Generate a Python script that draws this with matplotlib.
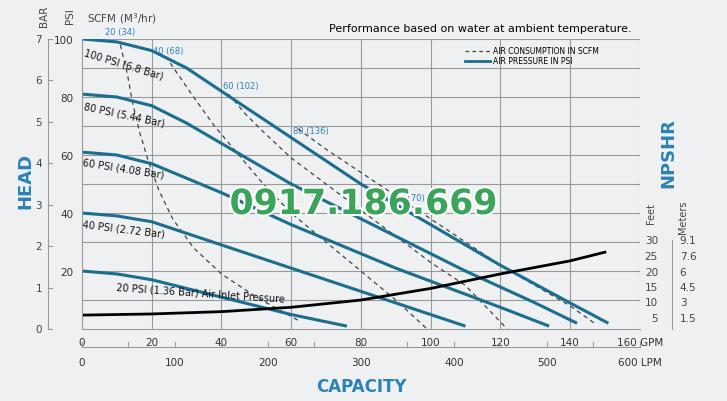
import matplotlib
matplotlib.use("Agg")
import matplotlib.pyplot as plt
import matplotlib.patheffects as pe

# Air pressure curves (GPM, PSI)
p100_x = [0, 10, 20, 30, 40, 50, 60, 70, 80, 90, 100, 110, 120, 130, 140, 151]
p100_y = [100, 99, 96, 90, 82, 74, 66, 58, 50, 43, 36, 29, 22, 15.5, 9, 2]
p80_x = [0, 10, 20, 30, 40, 50, 60, 70, 80, 90, 100, 110, 120, 130, 142]
p80_y = [81, 80, 77, 71, 64, 57, 50, 44, 38, 32, 26, 20, 14.5, 9, 2]
p60_x = [0, 10, 20, 30, 40, 50, 60, 70, 80, 90, 100, 110, 120, 134]
p60_y = [61, 60, 57, 52, 47, 41.5, 36, 31, 26, 21, 16.5, 12, 7.5, 1]
p40_x = [0, 10, 20, 30, 40, 50, 60, 70, 80, 90, 100, 110]
p40_y = [40, 39, 37, 33, 29, 25, 21, 17, 13, 9, 5, 1]
p20_x = [0, 10, 20, 30, 40, 50, 60, 70, 76]
p20_y = [20, 19, 17, 14, 11, 8, 5, 2.5, 1]
# Air consumption (SCFM) curves
s20_x = [11, 13, 14.5, 16.5, 19, 22, 26, 32, 40, 50, 62]
s20_y = [98, 88, 78, 68, 58, 48, 38, 28, 19, 11, 3]
s40_x = [24, 28, 32, 38, 45, 52, 60, 70, 80, 90, 99]
s40_y = [94, 87, 80, 70, 60, 50, 40, 30, 20, 10, 0]
s60_x = [42, 47, 52, 60, 70, 80, 90, 100, 110, 122]
s60_y = [81, 74, 68, 59, 50, 41, 32, 23, 15, 0]
s80_x = [62, 70, 80, 90, 100, 110, 120, 130, 140, 147]
s80_y = [69, 62, 54, 46, 38, 30, 22, 15, 8, 2]
# NPSHR
n_x = [0, 20, 40, 60, 80, 100, 120, 140, 150]
n_y = [4.8, 5.2, 6, 7.5, 10, 14, 19, 23.5, 26.5]

press_labels = ["100 PSI (6.8 Bar)", "80 PSI (5.44 Bar)", "60 PSI (4.08 Bar)",
                "40 PSI (2.72 Bar)", "20 PSI (1.36 Bar) Air Inlet Pressure"]
scfm_labels = ["20 (34)", "40 (68)", "60 (102)", "80 (136)", "100 (170)"]
gpm_ticks = [0, 20, 40, 60, 80, 100, 120, 140, 160]
psi_ticks = [20, 40, 60, 80, 100]
bar_ticks = [0, 1, 2, 3, 4, 5, 6, 7]
lpm_ticks = [0, 100, 200, 300, 400, 500, 600]
feet = [30, 25, 20, 15, 10, 5]
meters = ["9.1", "7.6", "6", "4.5", "3", "1.5"]

BLUE = "#1a6e8e"
LBLUE = "#2b82b8"
fig = plt.figure(figsize=(7.27, 4.02), dpi=100, facecolor="#eef0f2")
ax = fig.add_axes([0.1128, 0.179, 0.7672, 0.7215])
ax.set_facecolor("#eef0f2")
ax.set_xlim(0, 160); ax.set_ylim(0, 100)
for g in range(20, 161, 20):
    ax.axvline(g, color="#999999", lw=0.8, zorder=0)
for g in range(10, 101, 10):
    ax.axhline(g, color="#999999", lw=0.8, zorder=0)
for s in ["top", "right"]:
    ax.spines[s].set_visible(False)
ax.spines["left"].set_color("#999999"); ax.spines["bottom"].set_color("#999999")
ax.set_xticks(gpm_ticks)
ax.set_xticklabels([str(t) if t < 160 else "160 GPM" for t in gpm_ticks])
ax.set_yticks([0] + psi_ticks)
ax.set_yticklabels([""] + [str(t) for t in psi_ticks])
ax.tick_params(length=0, labelsize=7.5, colors="#333333", pad=6)

for xs, ys in [(s20_x, s20_y), (s40_x, s40_y), (s60_x, s60_y), (s80_x, s80_y)]:
    ax.plot(xs, ys, color="#444444", lw=0.9, ls=(0, (3.5, 3)))
for xs, ys in [(p100_x, p100_y), (p80_x, p80_y), (p60_x, p60_y), (p40_x, p40_y), (p20_x, p20_y)]:
    ax.plot(xs, ys, color=BLUE, lw=2.2, solid_capstyle="butt")
ax.plot(n_x, n_y, color="black", lw=2)

for (x, y, r), t in zip([(12, 91.5, -17), (12, 74, -12), (12, 55.5, -9), (12, 34.5, -7), (34, 12.5, -4)], press_labels):
    ax.text(x, y, t, rotation=r, ha="center", va="center", fontsize=7, color="#111111")
for (x, y), t in zip([(11, 102.5), (24.6, 96), (45.6, 84), (65.6, 68.6), (92.5, 45.5)], scfm_labels):
    ax.text(x, y, t, ha="center", va="center", fontsize=6, color=LBLUE, clip_on=False, zorder=1)

# legend
ax.plot([110, 117], [96, 96], color="#444444", lw=0.9, ls=(0, (3, 2.5)))
ax.plot([110, 117], [92.5, 92.5], color=BLUE, lw=2)
ax.text(118, 96, "AIR CONSUMPTION IN SCFM", fontsize=5.5, va="center")
ax.text(118, 92.5, "AIR PRESSURE IN PSI", fontsize=5.5, va="center")
fig.text(0.452, 0.92, "Performance based on water at ambient temperature.", fontsize=8)

# left BAR scale
for b in bar_ticks:
    y = 0.179 + 0.7215 * b / 7
    fig.text(0.058, y, str(b), ha="right", va="center", fontsize=7.5, color="#444444")
fig.add_artist(plt.Line2D([0.066, 0.066], [0.179, 0.9005], color="#999999", lw=0.8))
for b in bar_ticks:
    y = 0.179 + 0.7215 * b / 7
    fig.add_artist(plt.Line2D([0.066, 0.072], [y, y], color="#999999", lw=0.8))
fig.text(0.06, 0.96, "BAR", rotation=90, ha="center", va="center", fontsize=7.5, color="#444444")
fig.text(0.096, 0.96, "PSI", rotation=90, ha="center", va="center", fontsize=7.5, color="#444444")
fig.text(0.12, 0.945, "SCFM (M$^3$/hr)", fontsize=7.5, color="#444444")
fig.text(0.035, 0.55, "HEAD", rotation=90, ha="center", va="center", fontsize=13, fontweight="bold", color=LBLUE)

# LPM axis
yl = 0.134
fig.add_artist(plt.Line2D([0.1128, 0.88], [yl, yl], color="#999999", lw=0.8))
for i in range(13):
    x = 0.1128 + 0.7672 * i / 12
    fig.add_artist(plt.Line2D([x, x], [yl, yl + 0.012], color="#999999", lw=0.8))
for v in lpm_ticks:
    x = 0.1128 + 0.7672 * v / 600
    fig.text(x, 0.09, str(v) if v < 600 else "600 LPM", ha="center", fontsize=7.5, color="#333333")
fig.text(0.497, 0.025, "CAPACITY", ha="center", fontsize=12, fontweight="bold", color=LBLUE)

# NPSHR scale
for f, m in zip(feet, meters):
    y = (402 - (319 - (f - 5) * 3.1)) / 402
    fig.text(0.905, y, str(f), ha="right", va="center", fontsize=7.5, color="#444444")
    fig.text(0.935, y, m, ha="left", va="center", fontsize=7.5, color="#444444")
fig.add_artist(plt.Line2D([0.925, 0.925], [0.18, 0.4], color="#999999", lw=0.8))
fig.text(0.895, 0.47, "Feet", rotation=90, ha="center", va="center", fontsize=7, color="#444444")
fig.text(0.94, 0.46, "Meters", rotation=90, ha="center", va="center", fontsize=7, color="#444444")
fig.text(0.92, 0.62, "NPSHR", rotation=90, ha="center", va="center", fontsize=13, fontweight="bold", color=LBLUE)

fig.text(0.50, 0.49, "0917.186.669", ha="center", va="center", fontsize=25, fontweight="bold",
         color="#3aa55a", path_effects=[pe.withStroke(linewidth=3, foreground="white")], zorder=5)

fig.savefig("out.png", dpi=100, facecolor=fig.get_facecolor())
